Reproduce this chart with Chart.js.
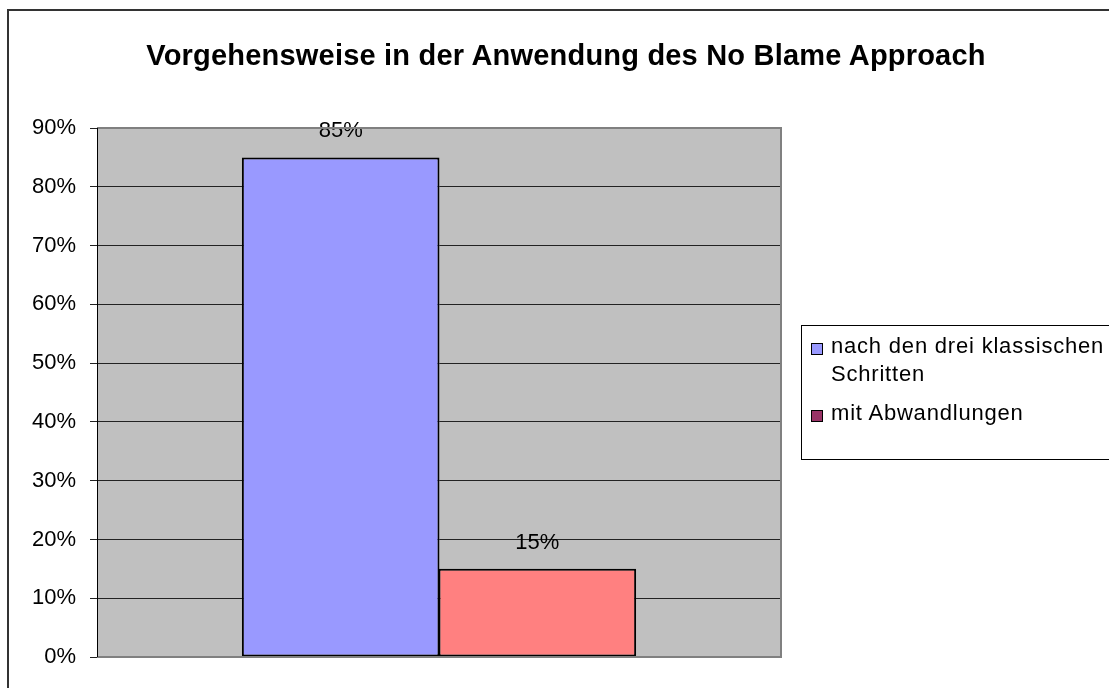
<!DOCTYPE html>
<html>
<head>
<meta charset="utf-8">
<script src="https://cdn.jsdelivr.net/npm/chart.js@4"></script>
<style>
  html, body { margin: 0; padding: 0; background: #fff; overflow: hidden; }
  #wrap { position: relative; width: 1109px; height: 688px; font-family: "Liberation Sans", Arial, sans-serif; }
  #frame { position: absolute; left: 7px; top: 9px; width: 1200px; height: 800px; border: 2px solid #333; box-sizing: border-box; }
  #title { position: absolute; left: 0; width: 1132px; top: 38px; text-align: center; font-weight: bold; font-size: 29px; letter-spacing: 0.2px; line-height: 34px; color: #000; }
  #legend { position: absolute; left: 801px; top: 325px; width: 400px; height: 135px; border: 1px solid #000; box-sizing: border-box; }
  .item { position: absolute; left: 29px; font-size: 22px; letter-spacing: 0.8px; line-height: 28px; color: #000; white-space: nowrap; }
  .item .box { position: absolute; left: -20px; top: 11px; width: 10px; height: 10px; border: 1px solid #000; }
  canvas { position: absolute; left: 0; top: 0; }
</style>
</head>
<body>
<div id="wrap">
  <div id="frame"></div>
  <canvas id="barChart" width="1109" height="688"></canvas>
  <div id="title">Vorgehensweise in der Anwendung des No Blame Approach</div>
  <div id="legend"></div>
</div>
<script>
// =====================
// Data
// =====================
const categories = [''];
const seriesNames = ['nach den drei klassischen Schritten', 'mit Abwandlungen'];
const seriesValues = [[85], [15]];
const barColors = ['#9999FF', '#FF8080'];
const legendColors = ['#9999FF', '#993366'];
const yTicks = [0, 10, 20, 30, 40, 50, 60, 70, 80, 90];

// =====================
// Legend (HTML)
// =====================
const legend = document.getElementById('legend');
const legendLines = [['nach den drei klassischen', 'Schritten'], ['mit Abwandlungen']];
const legendTops = [6, 73];
seriesNames.forEach((name, i) => {
  const item = document.createElement('div');
  item.className = 'item';
  item.style.top = legendTops[i] + 'px';
  item.innerHTML = '<span class="box" style="background:' + legendColors[i] + '"></span>' +
    legendLines[i].join('<br>');
  legend.appendChild(item);
});

// =====================
// Plugins
// =====================
const plotBackground = {
  id: 'plotBackground',
  beforeDraw(chart) {
    const { ctx, chartArea: a } = chart;
    ctx.save();
    ctx.fillStyle = '#C0C0C0';
    ctx.fillRect(a.left, a.top, a.right - a.left, a.bottom - a.top);
    ctx.restore();
  },
  afterDraw(chart) {
    const { ctx, chartArea: a } = chart;
    ctx.save();
    ctx.strokeStyle = '#808080';
    ctx.lineWidth = 2;
    ctx.beginPath();
    ctx.moveTo(a.left, a.top);
    ctx.lineTo(a.right, a.top);
    ctx.lineTo(a.right, a.bottom);
    ctx.lineTo(a.left, a.bottom);
    ctx.stroke();
    ctx.strokeStyle = '#000';
    ctx.lineWidth = 1;
    ctx.beginPath();
    ctx.moveTo(a.left + 0.5, a.top);
    ctx.lineTo(a.left + 0.5, a.bottom);
    ctx.stroke();
    ctx.restore();
  }
};

const valueLabels = {
  id: 'valueLabels',
  afterDatasetsDraw(chart) {
    const { ctx } = chart;
    ctx.save();
    ctx.font = '22px "Liberation Sans", Arial, sans-serif';
    ctx.fillStyle = '#000';
    ctx.textAlign = 'center';
    ctx.textBaseline = 'middle';
    chart.data.datasets.forEach((ds, i) => {
      chart.getDatasetMeta(i).data.forEach((bar, j) => {
        ctx.fillText(ds.data[j] + '%', bar.x, bar.y - 26);
      });
    });
    ctx.restore();
  }
};

// =====================
// Chart
// =====================
new Chart(document.getElementById('barChart'), {
  type: 'bar',
  data: {
    labels: categories,
    datasets: seriesNames.map((name, i) => ({
      label: name,
      data: seriesValues[i],
      backgroundColor: barColors[i],
      borderColor: '#000',
      borderWidth: 2,
      borderSkipped: false,
      categoryPercentage: 0.575,
      barPercentage: 1.005
    }))
  },
  options: {
    responsive: false,
    animation: false,
    layout: { padding: { top: 128, right: 328, bottom: 31, left: 0 } },
    plugins: {
      legend: { display: false },
      title: { display: false },
      tooltip: { enabled: false }
    },
    scales: {
      x: { display: false },
      y: {
        min: 0,
        max: 90,
        afterFit(scale) { scale.width = 97; },
        afterBuildTicks(scale) { scale.ticks = yTicks.map(v => ({ value: v })); },
        ticks: {
          color: '#000',
          padding: 14,
          font: { family: '"Liberation Sans", Arial, sans-serif', size: 22 },
          callback: v => v + '%'
        },
        grid: { color: '#222', lineWidth: 1, tickLength: 7 },
        border: { color: '#000' }
      }
    }
  },
  plugins: [plotBackground, valueLabels]
});
</script>
</body>
</html>
